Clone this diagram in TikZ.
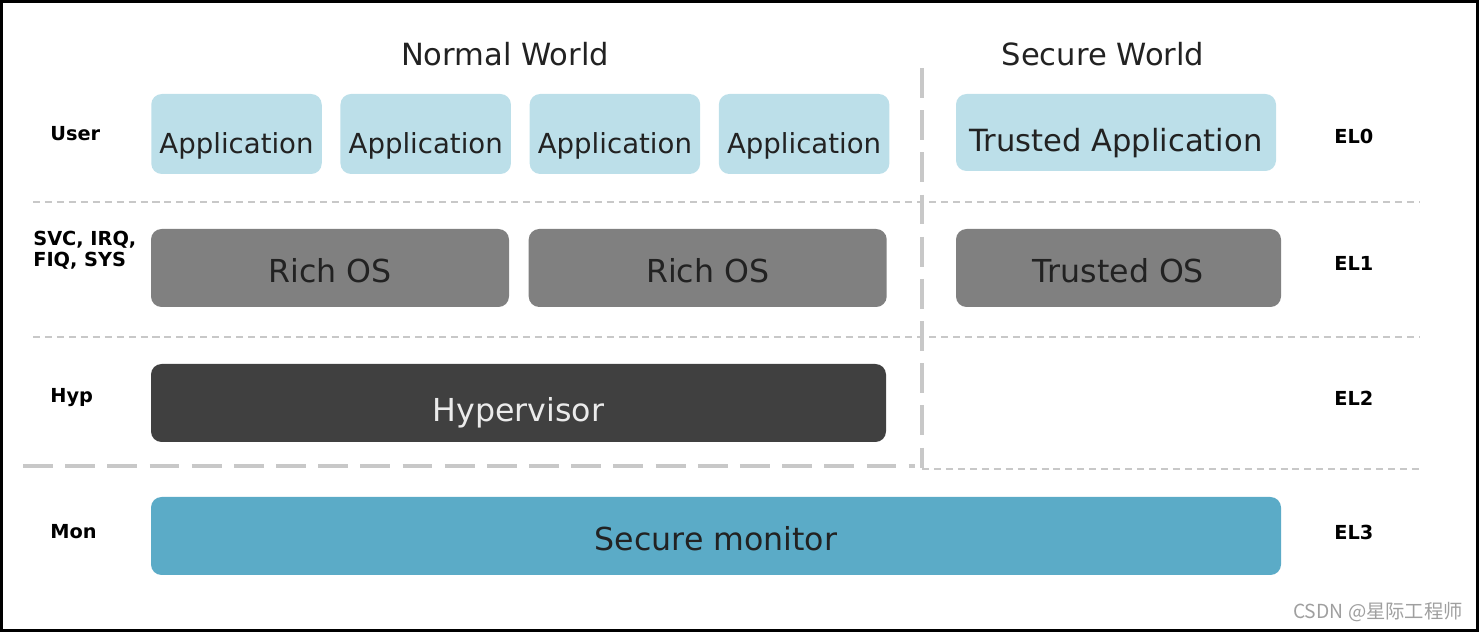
\documentclass[tikz,border=0pt]{standalone}
\usepackage{fontspec}
\setmainfont{DejaVu Sans}
\newfontfamily\cjk{Noto Sans CJK SC}
\usetikzlibrary{positioning}
\definecolor{appblue}{RGB}{188,223,233}
\definecolor{osgray}{RGB}{128,128,128}
\definecolor{hypgray}{RGB}{64,64,64}
\definecolor{monblue}{RGB}{91,171,199}
\definecolor{txt}{RGB}{34,34,34}
\definecolor{sepgray}{RGB}{200,200,200}
\tikzset{
  layer/.style={rectangle, rounded corners=6pt, minimum height=1.6cm, inner sep=0pt, text height=17pt, text depth=0pt},
  app/.style={layer, fill=appblue, text=txt, minimum width=3.41cm, text height=22.5pt, font=\fontsize{15.7}{18}\selectfont},
  tapp/.style={layer, fill=appblue, text=txt, minimum width=6.4cm, minimum height=1.54cm, text height=22pt, font=\fontsize{17.4}{20}\selectfont},
  os/.style={layer, fill=osgray, text=txt, minimum width=7.16cm, minimum height=1.56cm, font=\fontsize{18}{20}\selectfont},
  hyp/.style={layer, fill=hypgray, text=white!92!black, minimum width=14.7cm, minimum height=1.56cm, text height=21pt, font=\fontsize{18}{20}\selectfont},
  mon/.style={layer, fill=monblue, text=txt, minimum width=22.6cm, minimum height=1.56cm, font=\fontsize{18}{20}\selectfont},
  world/.style={text=txt, font=\fontsize{17.4}{20}\selectfont},
  lvl/.style={anchor=west, inner sep=0pt, align=left, font=\bfseries\fontsize{11}{12}\selectfont},
  finesep/.style={draw=sepgray, line width=0.8pt, dash pattern=on 4pt off 2.8pt},
  coarsesep/.style={draw=sepgray, line width=1.8pt, dash pattern=on 17pt off 7pt}
}
\begin{document}
\begin{tikzpicture}
    \useasboundingbox (0,0) rectangle (29.58,12.64);
    \draw[line width=1.2pt] (0.03,0.03) rectangle (29.55,12.61);

    \node[world] (nw) at (10.1,11.56) {Normal World};
    \node[world] (sw) at (22.06,11.56) {Secure World};

    \node[app] (app1) at (4.73,9.96) {Application};
    \node[app,right=0.36cm of app1] (app2) {Application};
    \node[app,right=0.36cm of app2] (app3) {Application};
    \node[app,right=0.36cm of app3] (app4) {Application};
    \node[tapp] (ta) at (22.32,9.99) {Trusted Application};

    \node[os] (rich1) at (6.6,7.28) {Rich OS};
    \node[os,right=0.38cm of rich1] (rich2) {Rich OS};
    \node[os,minimum width=6.5cm] (tos) at (22.37,7.28) {Trusted OS};

    \node[hyp] (hyp) at (10.37,4.58) {Hypervisor};
    \node[mon] (mon) at (14.32,1.92) {Secure monitor};

    \node[lvl] (user) at (1.0,9.96) {User};
    \node[lvl] (svc) at (0.66,7.63) {SVC, IRQ,\\FIQ, SYS};
    \node[lvl] (hypl) at (1.0,4.68) {Hyp};
    \node[lvl] (monl) at (1.0,2.0) {Mon};

    \node[lvl] (el0) at (26.68,9.92) {EL0};
    \node[lvl] (el1) at (26.68,7.38) {EL1};
    \node[lvl] (el2) at (26.68,4.68) {EL2};
    \node[lvl] (el3) at (26.68,2.0) {EL3};

    \begin{scope}
      \path[finesep] (0.66,8.6) -- (28.4,8.6);
      \path[finesep] (0.66,5.9) -- (28.4,5.9);
      \path[finesep] (18.44,3.26) -- (28.4,3.26);
      \path[coarsesep] (0.46,3.32) -- (18.3,3.32);
      \path[coarsesep] (18.44,11.28) -- (18.44,3.28);
    \end{scope}

    \node[text=gray!75, font=\cjk\fontsize{11}{12}\selectfont] (wm) at (27.56,0.4) {CSDN @星际工程师};
\end{tikzpicture}
\end{document}
